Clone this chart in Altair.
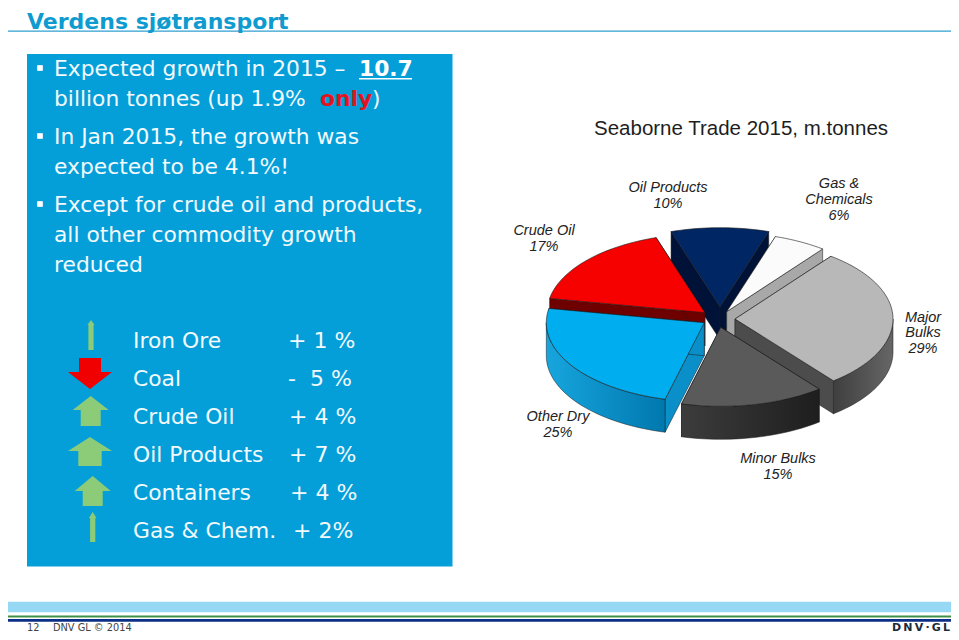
import math
import altair as alt
import pandas as pd

# ---------- slide text ----------
SLIDE_TITLE = "Verdens sjøtransport"
BULLET_RUNS = [
    ("Expected growth in 2015 –", 54, 76, "normal", "#F2FAFD"),
    ("10.7", 359, 76, "bold", "#FFFFFF"),
    ("billion tonnes (up 1.9%", 54, 106, "normal", "#F2FAFD"),
    ("only", 320, 106, "bold", "#E3141E"),
    (")", 372, 106, "normal", "#F2FAFD"),
    ("In Jan 2015, the growth was", 54, 144, "normal", "#F2FAFD"),
    ("expected to be 4.1%!", 54, 174, "normal", "#F2FAFD"),
    ("Except for crude oil and products,", 54, 212, "normal", "#F2FAFD"),
    ("all other commodity growth", 54, 242, "normal", "#F2FAFD"),
    ("reduced", 54, 272, "normal", "#F2FAFD"),
]
BULLET_Y = [68, 136, 204]

# ---------- commodity growth table ----------
COMMODITIES = ["Iron Ore", "Coal", "Crude Oil", "Oil Products", "Containers", "Gas & Chem."]
GROWTH = ["+ 1 %", "-\u00a0\u00a05 %", "+ 4 %", "+ 7 %", "+ 4 %", "+ 2%"]
GROWTH_X = [288, 288, 289, 289, 290, 293]
ROW_BASE = [348, 386, 424, 462, 500, 538]
# arrow: centre x, tip y, head-base y, tail y, stem half width, head half width, colour
ARROWS = [
    (91, 320, 325, 350, 2.6, 3.6, "#8CCB78"),
    (90, 389, 372, 358, 11, 22, "#F00000"),
    (90.7, 396, 410, 426, 10, 18, "#8CCB78"),
    (90, 437, 451, 466, 11.7, 22, "#8CCB78"),
    (92.7, 476, 491, 506, 10, 18, "#8CCB78"),
    (92.7, 512, 518, 542, 2.6, 3.8, "#8CCB78"),
]

# ---------- pie ----------
PIE_TITLE = "Seaborne Trade 2015, m.tonnes"
SLICES = ["Crude Oil", "Oil Products", "Gas & Chemicals", "Major Bulks", "Minor Bulks", "Other Dry"]
SHARES = [17.1, 10.0, 5.4, 28.9, 14.7, 23.9]
START_ANGLE = -79.6
RX, RY, DEPTH = 158, 79, 33
APEX = {
    "Crude Oil": (705, 312.7),
    "Oil Products": (720, 306.7),
    "Gas & Chemicals": (726.7, 311.7),
    "Major Bulks": (735, 319),
    "Minor Bulks": (720.7, 327.3),
    "Other Dry": (704.3, 322.7),
}
TOP_COLOR = {
    "Crude Oil": "#F70000",
    "Oil Products": "#002664",
    "Gas & Chemicals": "#FBFBFB",
    "Major Bulks": "#B8B8B8",
    "Minor Bulks": "#5A5A5A",
    "Other Dry": "#00ADEF",
}
WALL_COLOR = {
    "Crude Oil": "#6E0000",
    "Oil Products": "#001238",
    "Gas & Chemicals": "#A8A8A8",
    "Major Bulks": "#4C4C4C",
    "Minor Bulks": "#2A2A2A",
    "Other Dry": "#0A8FC8",
}
OUTER_STOPS = {
    "Major Bulks": ("#3F3F3F", "#666666"),
    "Minor Bulks": ("#3C3C3C", "#1E1E1E"),
    "Other Dry": ("#17A5DE", "#0078AE"),
}
DRAW_ORDER = ["Oil Products", "Gas & Chemicals", "Crude Oil", "Major Bulks", "Other Dry", "Minor Bulks"]
PIE_LABELS = [
    (["Oil Products", "10%"], 668, [192, 208]),
    (["Gas &", "Chemicals", "6%"], 839, [187.5, 203.5, 219.5]),
    (["Crude Oil", "17%"], 544, [235, 251]),
    (["Major", "Bulks", "29%"], 923, [321.5, 337, 353]),
    (["Other Dry", "25%"], 558, [421, 437]),
    (["Minor Bulks", "15%"], 778, [463, 479]),
]

# ---------- scales ----------
xs = alt.Scale(domain=[8, 951], range=[0, 943], nice=False, zero=False)
ys = alt.Scale(domain=[8, 632], range=[0, 624], nice=False, zero=False)
X = alt.X("x:Q", scale=xs, axis=None)
Y = alt.Y("y:Q", scale=ys, axis=None)


def rect(x0, x1, y0, y1, color):
    df = pd.DataFrame({"x": [x0], "x2": [x1], "y": [y0], "y2": [y1]})
    return alt.Chart(df).mark_rect(color=color).encode(x=X, x2="x2:Q", y=Y, y2="y2:Q")


def polygon(points, fill, stroke=None, width=0.7):
    df = pd.DataFrame(points, columns=["x", "y"])
    df["i"] = range(len(df))
    kw = {"stroke": stroke if stroke else "transparent", "strokeWidth": width if stroke else 0}
    return alt.Chart(df).mark_line(fill=fill, strokeJoin="round", **kw).encode(
        x=X, y=Y, order="i:Q"
    )


def text(rows, **kw):
    df = pd.DataFrame(rows, columns=["t", "x", "y"])
    kw.setdefault("baseline", "alphabetic")
    kw.setdefault("align", "left")
    return alt.Chart(df).mark_text(**kw).encode(x=X, y=Y, text="t:N")


def rim(cx, cy, a0, a1, dy=0):
    n = max(2, int(abs(a1 - a0) / 2) + 1)
    out = []
    for k in range(n + 1):
        a = math.radians(a0 + (a1 - a0) * k / n)
        out.append((cx + RX * math.sin(a), cy - RY * math.cos(a) + dy))
    return out


layers = []

# header
layers.append(rect(8, 951, 30.5, 31.7, "#2E9FCF"))
layers.append(text([(SLIDE_TITLE, 27, 28.6)], font="DejaVu Sans", fontSize=22, fontWeight="bold", color="#0E9BD0"))

# blue panel
layers.append(rect(27, 452.5, 54, 566.5, "#049FD9"))
for t, x, y, w, c in BULLET_RUNS:
    layers.append(text([(t, x, y)], font="DejaVu Sans", fontSize=21.8, fontWeight=w, color=c))
layers.append(rect(359, 412, 78, 79.6, "#FFFFFF"))
layers.append(
    alt.Chart(pd.DataFrame({"x": [40] * 3, "y": BULLET_Y}))
    .mark_square(size=32, color="#FFFFFF", opacity=1)
    .encode(x=X, y=Y)
)

# growth table
layers.append(text([(c, 133, y) for c, y in zip(COMMODITIES, ROW_BASE)], font="DejaVu Sans", fontSize=21.8, color="#F2FAFD"))
layers.append(text([(g, x, y) for g, x, y in zip(GROWTH, GROWTH_X, ROW_BASE)], font="DejaVu Sans", fontSize=22, color="#F2FAFD"))
for cx, tip, base, tail, stem, head, col in ARROWS:
    layers.append(
        polygon(
            [(cx, tip), (cx + head, base), (cx + stem, base), (cx + stem, tail),
             (cx - stem, tail), (cx - stem, base), (cx - head, base), (cx, tip)],
            col,
        )
    )

# pie
layers.append(text([(PIE_TITLE, 594, 135)], font="Liberation Sans", fontSize=20.5, color="#1E1E1E"))
angles = {}
a = START_ANGLE
for s, v in zip(SLICES, SHARES):
    angles[s] = (a, a + v * 3.6)
    a += v * 3.6

for s in DRAW_ORDER:
    a0, a1 = angles[s]
    cx, cy = APEX[s]
    p0 = rim(cx, cy, a0, a0 + 0.01)[0]
    p1 = rim(cx, cy, a1, a1 + 0.01)[0]
    wall = WALL_COLOR[s]
    for p in (p0, p1):
        layers.append(
            polygon([(cx, cy), p, (p[0], p[1] + DEPTH), (cx, cy + DEPTH), (cx, cy)], wall, "#1A1A1A", 0.5)
        )
    v0, v1 = max(a0, 90), min(a1, 270)
    if v1 > v0:
        top = rim(cx, cy, v0, v1)
        bottom = rim(cx, cy, v1, v0, DEPTH)
        c0, c1 = OUTER_STOPS[s]
        grad = alt.LinearGradient(
            gradient="linear",
            stops=[alt.GradientStop(color=c0, offset=0), alt.GradientStop(color=c1, offset=1)],
            x1=0, x2=1, y1=0, y2=0,
        )
        layers.append(polygon(top + bottom + [top[0]], grad, "#1A1A1A", 0.5))
    layers.append(
        polygon([(cx, cy)] + rim(cx, cy, a0, a1) + [(cx, cy)], TOP_COLOR[s], "#1A1A1A", 0.6)
    )

for lines, x, ybs in PIE_LABELS:
    layers.append(
        text([(t, x, y) for t, y in zip(lines, ybs)], font="Liberation Sans", fontSize=14.5,
             fontStyle="italic", align="center", color="#222222")
    )

# footer
layers.append(rect(8, 951, 601.7, 612.3, "#97D8F4"))
layers.append(rect(8, 951, 615.6, 617.6, "#3F8F46"))
layers.append(rect(8, 951, 619, 621.8, "#0B2F86"))
layers.append(text([("12", 27, 631)], font="DejaVu Sans", fontSize=9.8, color="#444444"))
layers.append(text([("DNV GL © 2014", 53, 631)], font="DejaVu Sans", fontSize=9.8, color="#444444"))
layers.append(text([("D\u2009N\u2009V\u2009·\u2009G\u2009L", 950, 630.5)], font="DejaVu Sans", fontSize=11, fontWeight="bold", align="right", color="#1C2B3A"))

chart = (
    alt.layer(*layers)
    .properties(width=943, height=624, padding=0, autosize=alt.AutoSizeParams(type="none"), background="white")
    .configure_view(stroke=None)
)
chart.save("out.html", embed_options={"renderer": "svg", "actions": False})
